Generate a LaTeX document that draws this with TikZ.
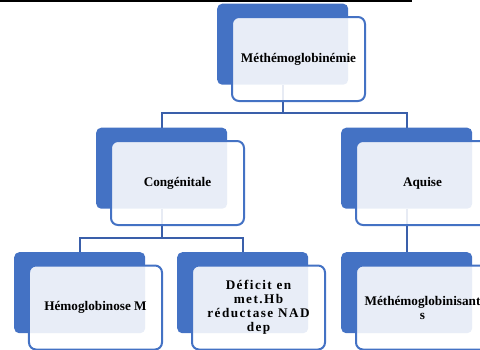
\documentclass[tikz,border=0pt]{standalone}
\usepackage{fontspec}
\setmainfont{Liberation Serif}
\usetikzlibrary{backgrounds}
\definecolor{accent}{RGB}{68,114,196}
\definecolor{conncol}{RGB}{58,95,170}
\tikzset{
  backbox/.style={rectangle, rounded corners=5bp, fill=accent, minimum width=131bp, minimum height=81bp, inner sep=0pt, anchor=north west},
  frontbox/.style={rectangle, rounded corners=7bp, draw=accent, line width=2bp, fill=white, fill opacity=0.88, text opacity=1, minimum width=133bp, minimum height=84bp, inner sep=0pt, align=center, font=\fontsize{13.2bp}{14bp}\selectfont\bfseries},
  conn/.style={draw=conncol, line width=2.2bp},
}
\begin{document}
\begin{tikzpicture}[x=1bp,y=-1bp]
\useasboundingbox (0,0) rectangle (480,349);
\fill[black] (0,0) rectangle (412,2);
% back boxes
\node[backbox] (topB) at (217,3.5) {};
\node[backbox] (congB) at (96,127.5) {};
\node[backbox] (aqB) at (341,127.5) {};
\node[backbox] (hemB) at (14,252) {};
\node[backbox] (defB) at (177,252) {};
\node[backbox] (metB) at (341,252) {};
% front boxes
\node[frontbox] (topF) at (298.5,59) {Méthémoglobinémie};
\node[frontbox] (congF) at (177.5,183) {Congénitale};
\node[frontbox] (aqF) at (422.5,183) {Aquise};
\node[frontbox] (hemF) at (95.5,307.5) {Hémoglobinose M};
\node[frontbox] (defF) at (258.5,307.5) {\addfontfeature{LetterSpace=11}Déficit en\\\addfontfeature{LetterSpace=11}met.Hb\\\addfontfeature{LetterSpace=11}réductase NAD\\\addfontfeature{LetterSpace=11}dep};
\node[frontbox] (metF) at (422.5,307.5) {Méthémoglobinisant\\s};
% connectors
\coordinate (h1) at (0,113);
\coordinate (h2) at (0,238);
\begin{scope}[on background layer]
\draw[conn] (topB.south) -- (topB.south |- h1) -| (congB.north);
\draw[conn] (topB.south |- h1) -| (aqB.north);
\draw[conn] (congB.south) -- (congB.south |- h2) -| (hemB.north);
\draw[conn] (congB.south |- h2) -| (defB.north);
\draw[conn] (aqB.south) -- (metB.north);
\end{scope}
\end{tikzpicture}
\end{document}
